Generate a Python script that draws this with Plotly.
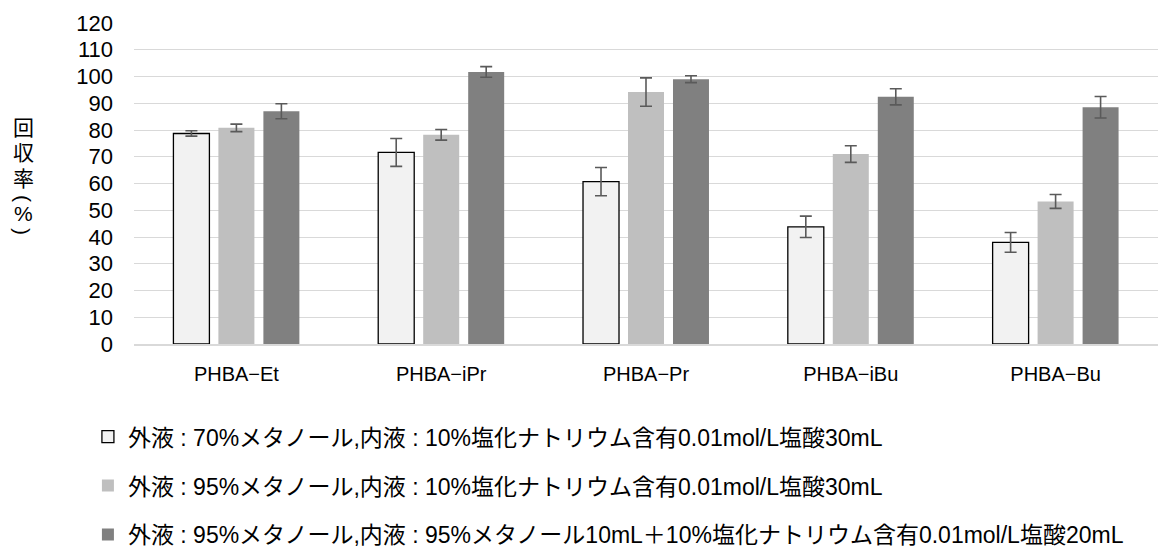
import plotly.graph_objects as go

categories = ["PHBA−Et", "PHBA−iPr", "PHBA−Pr", "PHBA−iBu", "PHBA−Bu"]
series_names = [
    "外液 : 70%メタノール,内液 : 10%塩化ナトリウム含有0.01mol/L塩酸30mL",
    "外液 : 95%メタノール,内液 : 10%塩化ナトリウム含有0.01mol/L塩酸30mL",
    "外液 : 95%メタノール,内液 : 95%メタノール10mL＋10%塩化ナトリウム含有0.01mol/L塩酸20mL",
]
values_70 = [78.7, 71.6, 60.7, 43.8, 38.0]
errors_70 = [1.0, 5.2, 5.3, 4.0, 3.7]
values_95 = [80.8, 78.2, 94.2, 71.0, 53.3]
errors_95 = [1.4, 2.0, 5.3, 3.1, 2.6]
values_mix = [87.0, 101.7, 99.0, 92.4, 88.5]
errors_mix = [2.8, 2.0, 1.3, 3.0, 4.0]
y_ticks = list(range(0, 121, 10))
y_title_chars = ["回", "収", "率", "(", "%", ")"]

fill_colors = ["#F2F2F2", "#BFBFBF", "#808080"]
line_colors = ["#000000", "#BFBFBF", "#808080"]
line_widths = [1.3, 0, 0]

FONT = "Liberation Sans, Arial, Noto Sans CJK JP, sans-serif"

# the page body has an 8px margin, so the figure is 8px smaller than the window
OFF = 8
W, H = 1175 - OFF, 549 - OFF
ML, MR, MT, MB = 134 - OFF, 17, 23 - OFF, 205
PH = H - MT - MB
PW = W - ML - MR

fig = go.Figure()
for i, (vals, errs) in enumerate([(values_70, errors_70), (values_95, errors_95), (values_mix, errors_mix)]):
    fig.add_trace(go.Bar(
        x=categories, y=vals, name=series_names[i],
        legendgroup=f"g{i}",
        marker=dict(color=fill_colors[i], line=dict(color=line_colors[i], width=line_widths[i])),
        error_y=dict(type="data", array=errs, visible=True, color="#5A5A5A", thickness=1.6, width=6),
    ))

fig.update_layout(
    width=W, height=H,
    margin=dict(l=ML, r=MR, t=MT, b=MB, autoexpand=False),
    paper_bgcolor="white", plot_bgcolor="white",
    barmode="group", bargap=0.341, bargroupgap=0.2,
    font=dict(family=FONT, size=20, color="#000000"),
    showlegend=True,
    legend=dict(
        orientation="v", x=-0.045, xanchor="left", y=-0.222, yanchor="top",
        font=dict(family=FONT, size=23, color="#000000"),
        tracegroupgap=16, itemwidth=30, bgcolor="rgba(0,0,0,0)",
    ),
    xaxis=dict(
        showgrid=False, showline=True, linecolor="#D9D9D9", linewidth=1.5,
        ticks="", tickfont=dict(family=FONT, size=20), ticklabelstandoff=11,
    ),
    yaxis=dict(
        range=[0, 120], tickvals=y_ticks, showgrid=True, gridcolor="#D9D9D9", gridwidth=1.3,
        zeroline=False, showline=False, ticks="", ticklabelstandoff=20,
        tickfont=dict(family=FONT, size=22),
    ),
)

# vertical y-axis title, one character per line (page pixel centres)
title_px = [127, 152, 178, 198, 214, 231]
title_sizes = [21, 21, 21, 21, 21, 21]
title_angles = [0, 0, 0, 90, 0, 90]
for ch, py, fs, ang in zip(y_title_chars, title_px, title_sizes, title_angles):
    fig.add_annotation(
        text=ch, xref="paper", yref="paper",
        x=(23 - 134) / PW, y=(344 - py) / PH,
        xanchor="center", yanchor="middle", showarrow=False, textangle=ang,
        font=dict(family=FONT, size=fs, color="#000000"),
    )

fig.write_html("out.html")
